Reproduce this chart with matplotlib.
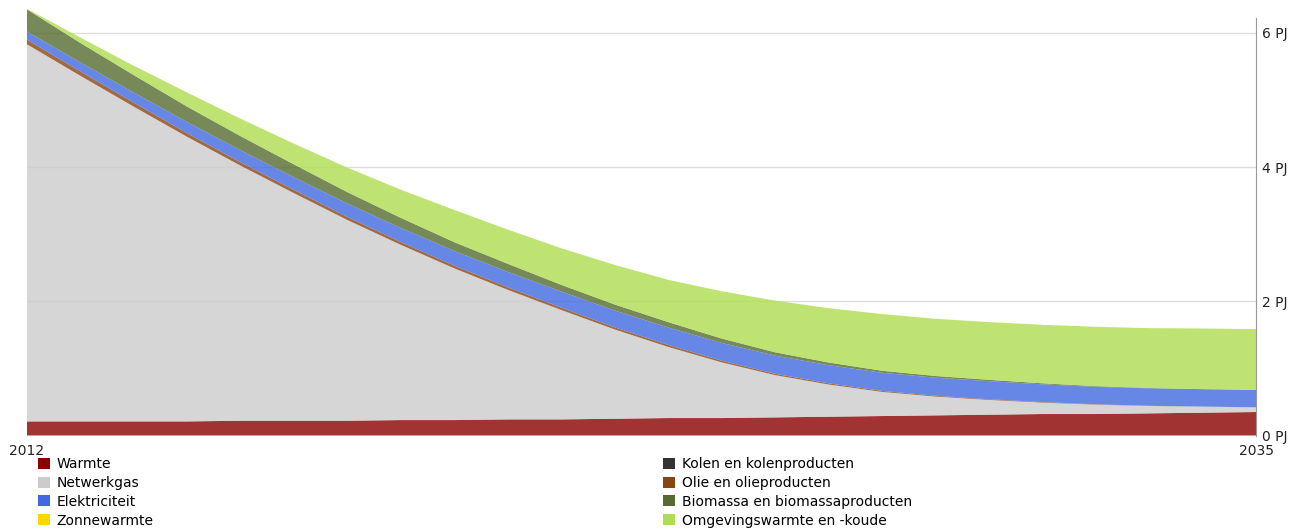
import matplotlib
matplotlib.use("Agg")
import matplotlib.pyplot as plt
from matplotlib.patches import Patch

# jaren en waarden (PJ)
jaren = list(range(2012, 2036))
warmte = [0.21, 0.21, 0.21, 0.21, 0.22, 0.22, 0.22, 0.23, 0.23, 0.24, 0.24, 0.25,
          0.26, 0.26, 0.27, 0.28, 0.29, 0.30, 0.31, 0.32, 0.32, 0.33, 0.34, 0.35]
netwerkgas = [5.62, 5.15, 4.69, 4.24, 3.80, 3.39, 2.99, 2.61, 2.26, 1.93, 1.63, 1.33,
              1.06, 0.83, 0.63, 0.48, 0.36, 0.28, 0.22, 0.17, 0.14, 0.11, 0.09, 0.07]
zonnewarmte = [0.0] * 24
kolen = [0.0] * 24
olie = [0.07, 0.065, 0.06, 0.055, 0.05, 0.048, 0.045, 0.042, 0.04, 0.038, 0.035, 0.032,
        0.03, 0.025, 0.02, 0.018, 0.015, 0.012, 0.01, 0.008, 0.005, 0.003, 0.001, 0.0]
elektriciteit = [0.12, 0.135, 0.15, 0.165, 0.18, 0.19, 0.20, 0.21, 0.22, 0.23, 0.24, 0.25,
                 0.26, 0.265, 0.27, 0.27, 0.27, 0.27, 0.27, 0.265, 0.26, 0.26, 0.26, 0.26]
biomassa = [0.33, 0.29, 0.26, 0.23, 0.21, 0.19, 0.17, 0.15, 0.13, 0.12, 0.10, 0.09,
            0.08, 0.065, 0.05, 0.04, 0.03, 0.025, 0.02, 0.015, 0.01, 0.005, 0.0, 0.0]
omgevingswarmte = [0.01, 0.08, 0.14, 0.21, 0.26, 0.31, 0.365, 0.42, 0.48, 0.51, 0.545, 0.59,
                   0.63, 0.705, 0.77, 0.81, 0.845, 0.853, 0.86, 0.872, 0.885, 0.892, 0.904, 0.905]

y_ticks = [0, 2, 4, 6]
y_labels = ["0 PJ", "2 PJ", "4 PJ", "6 PJ"]

kleuren = {
    "Warmte": "#8b0000",
    "Netwerkgas": "#cccccc",
    "Elektriciteit": "#4169e1",
    "Zonnewarmte": "#ffd700",
    "Kolen en kolenproducten": "#333333",
    "Olie en olieproducten": "#8b4513",
    "Biomassa en biomassaproducten": "#556b2f",
    "Omgevingswarmte en -koude": "#aedd4f",
}

fig = plt.figure(figsize=(13, 5.29), dpi=100)
ax = fig.add_axes([27 / 1300, 93.5 / 529, (1256 - 27) / 1300, (435.5 - 9) / 529])

# stapelvolgorde van onder naar boven
lagen = [
    ("Warmte", warmte),
    ("Netwerkgas", netwerkgas),
    ("Zonnewarmte", zonnewarmte),
    ("Kolen en kolenproducten", kolen),
    ("Olie en olieproducten", olie),
    ("Elektriciteit", elektriciteit),
    ("Biomassa en biomassaproducten", biomassa),
    ("Omgevingswarmte en -koude", omgevingswarmte),
]
ax.stackplot(jaren, [v for _, v in lagen], colors=[kleuren[n] for n, _ in lagen],
             alpha=0.8, linewidth=0, zorder=2)

ax.set_xlim(2012, 2035)
ax.set_ylim(0, (435.5 - 9) / 67.1)

for t in y_ticks[1:]:
    ax.axhline(t, color="#dddddd", linewidth=1, zorder=1)

ax.yaxis.tick_right()
ax.set_yticks(y_ticks)
ax.set_yticklabels(y_labels)
ax.set_xticks([2012, 2035])
ax.set_xticklabels(["2012", "2035"])
ax.tick_params(axis="y", length=0, pad=4, labelsize=10, labelcolor="#222222")
ax.tick_params(axis="x", length=0, pad=6, labelsize=10, labelcolor="#222222")

for s in ["left", "top", "bottom"]:
    ax.spines[s].set_visible(False)
ax.spines["right"].set_color("#999999")
ax.spines["right"].set_bounds(0, (435.5 - 18) / 67.1)

# legenda in twee kolommen
namen1 = ["Warmte", "Netwerkgas", "Elektriciteit", "Zonnewarmte"]
namen2 = ["Kolen en kolenproducten", "Olie en olieproducten",
          "Biomassa en biomassaproducten", "Omgevingswarmte en -koude"]
for namen, x0 in [(namen1, 38), (namen2, 663)]:
    handles = [Patch(facecolor=kleuren[n], edgecolor="none") for n in namen]
    fig.legend(handles, namen, loc="upper left",
               bbox_to_anchor=(x0 / 1300, 1 - 457 / 529), frameon=False,
               borderpad=0, borderaxespad=0, handlelength=0.85, handleheight=0.85,
               handletextpad=0.5, labelspacing=0.35, fontsize=10)

fig.savefig("out.png", dpi=100)
